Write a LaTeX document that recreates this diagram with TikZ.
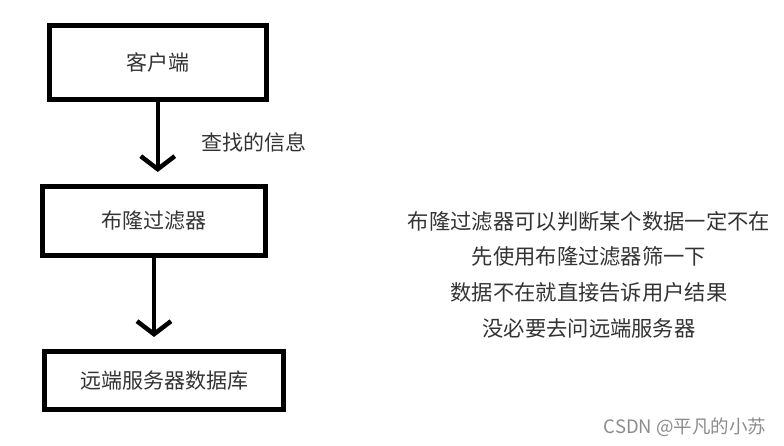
\documentclass[tikz,border=0pt]{standalone}
\usepackage{fontspec}
\setmainfont{Noto Sans CJK SC}
\usetikzlibrary{arrows.meta}
\begin{document}
\begin{tikzpicture}[x=1pt,y=-1pt,
  box/.style={draw=black,line width=5pt,minimum width=#1,inner sep=0pt,text=black!80,font=\fontsize{21}{24}\selectfont},
  conn/.style={line width=4.5pt,-{Straight Barb[length=13pt,width=34pt,line join=miter]},shorten >=12pt},
  lbl/.style={text=black!80,font=\fontsize{21}{24}\selectfont}]
\useasboundingbox (0,0) rectangle (784,446);
\node[box=216.5pt,minimum height=74pt] (client) at (157.75,62.5) {客户端};
\node[box=223pt,minimum height=69pt] (bloom) at (154,221) {布隆过滤器};
\node[box=239pt,minimum height=58pt] (db) at (164,380.5) {远端服务器数据库};
\draw[conn] (client.south) -- (client.south |- bloom.north);
\draw[conn] (bloom.south) -- (bloom.south |- db.north);
\node[lbl] (q) at (254,142) {查找的信息};
\node[lbl,align=center,font=\fontsize{21.3}{35.7}\selectfont] (note) at (589,274.5) {布隆过滤器可以判断某个数据一定不在\\先使用布隆过滤器筛一下\\数据不在就直接告诉用户结果\\没必要去问远端服务器};
\node[text=black!45,font=\fontsize{18.5}{20}\selectfont] (wm) at (685,427) {CSDN @平凡的小苏};
\end{tikzpicture}
\end{document}
